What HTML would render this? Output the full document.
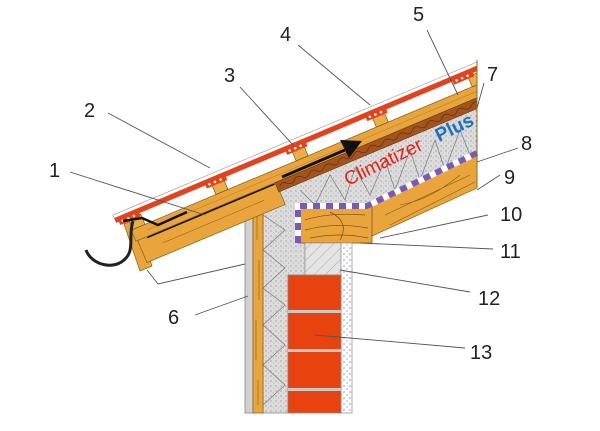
<!DOCTYPE html>
<html><head><meta charset="utf-8"><style>
html,body{margin:0;padding:0;background:#fff;}
svg{display:block;}
text{font-family:"Liberation Sans",sans-serif;}
</style></head><body>
<svg width="600" height="431" viewBox="0 0 600 431" xmlns="http://www.w3.org/2000/svg">
<defs>
<pattern id="ins" width="5" height="5" patternUnits="userSpaceOnUse">
<rect width="5" height="5" fill="#dcdcdc"/><circle cx="1" cy="1" r="0.6" fill="#8a8a8a"/><circle cx="3.5" cy="3" r="0.5" fill="#a0a0a0"/>
</pattern>
<pattern id="pl" width="6" height="6" patternUnits="userSpaceOnUse">
<rect width="6" height="6" fill="#fff"/><circle cx="2" cy="2" r="0.8" fill="#8888cc"/><circle cx="5" cy="5" r="0.7" fill="#9999cc"/>
</pattern>
<pattern id="hat" width="8" height="8" patternUnits="userSpaceOnUse" patternTransform="rotate(45)">
<rect width="8" height="8" fill="#e4e4e4"/><line x1="0" y1="0" x2="0" y2="8" stroke="#999" stroke-width="0.8"/>
</pattern>
<clipPath id="cl"><rect x="0" y="0" width="477.5" height="431"/></clipPath>
</defs>

<!-- insulation -->
<polygon points="263,196 477,100 477,152 367,206 298,206 298,243 305,243 305,275 288,275 288,413 263,413" fill="url(#ins)" stroke="#888" stroke-width="0.8"/>
<polyline points="263,215 285,230 263,250 285,268 263,288 285,305 263,325 285,345 263,365 285,385 263,405" fill="none" stroke="#777" stroke-width="0.7"/>
<polyline points="300,190 315,205 330,175 345,200 355,168 370,195 385,160 395,190 410,150 420,180 435,140 445,170 460,130 470,155" fill="none" stroke="#777" stroke-width="0.7"/>

<!-- rafter right -->
<polygon points="367,207 477,154 477,188 372,236" fill="#e9a53c" stroke="#9a6a1a" stroke-width="0.8"/>
<path d="M385,215 L470,175 M390,225 L475,182 M400,205 Q430,200 460,175" stroke="#8a5a10" stroke-width="0.6" fill="none"/>
<!-- beam -->
<rect x="298" y="207" width="74" height="36" fill="#e9a53c" stroke="#7a5a20" stroke-width="0.8"/>
<path d="M305,220 Q330,212 365,215 M305,230 Q335,222 368,228 M310,238 Q340,232 368,238 M330,212 Q350,222 340,240" stroke="#7a4a10" stroke-width="0.7" fill="none"/>
<!-- vapor dashed -->
<polyline points="298,243 298,206 367,206 477,153" fill="none" stroke="#fff" stroke-width="6"/>
<polyline points="298,243 298,206 367,206 477,153" fill="none" stroke="#7a5ab8" stroke-width="6" stroke-dasharray="7 6"/>

<!-- hatched and plaster -->
<rect x="305" y="243" width="36" height="32" fill="url(#hat)" stroke="#888" stroke-width="0.6"/>
<rect x="341" y="243" width="11" height="170" fill="url(#pl)" stroke="#999" stroke-width="0.8"/>
<!-- bricks -->
<rect x="288" y="275" width="53" height="138" fill="#e8420f" stroke="#888" stroke-width="0.8"/>
<rect x="288" y="310" width="53" height="3" fill="#c8c8c8"/>
<rect x="288" y="349" width="53" height="3" fill="#c8c8c8"/>
<rect x="288" y="388" width="53" height="3" fill="#c8c8c8"/>
<!-- wall exterior -->
<rect x="245" y="203" width="8" height="210" fill="#d0d0d0" stroke="#888" stroke-width="0.8"/>
<rect x="253" y="196" width="10" height="217" fill="#e9a53c" stroke="#8a6a20" stroke-width="0.8"/>
<path d="M257,215 L257,240 M259,260 L259,300 M256,320 L256,360 M258,380 L258,405" stroke="#8a5a10" stroke-width="0.6"/>

<!-- eave fascia -->
<polygon points="124,224 136,219 152,266 140,271" fill="#e9a53c" stroke="#8a6a20" stroke-width="0.8"/>

<!-- roof group -->
<g clip-path="url(#cl)">
<g transform="translate(477,62) rotate(-22.8)">
<rect x="-382" y="33" width="150" height="24" fill="#e9a53c" stroke="#8a6a20" stroke-width="0.8"/>
<line x1="-372" y1="34" x2="-234" y2="34" stroke="#111" stroke-width="1.6"/>
<line x1="-360" y1="45" x2="-250" y2="45" stroke="#8a5a10" stroke-width="0.5"/>
<rect x="-384" y="21" width="410" height="12" fill="#e9a53c" stroke="#8a6a20" stroke-width="0.8"/>
<line x1="-370" y1="27" x2="20" y2="27" stroke="#b07a20" stroke-width="0.5"/>
<rect x="-233" y="33" width="260" height="10" fill="#a3541c" stroke="#6a3a10" stroke-width="0.6"/>
<path d="M-230,38 q4,-4 8,0 t8,0 t8,0 t8,0 t8,0 t8,0 t8,0 t8,0 t8,0 t8,0 t8,0 t8,0 t8,0 t8,0 t8,0 t8,0 t8,0 t8,0 t8,0 t8,0 t8,0 t8,0 t8,0 t8,0 t8,0 t8,0 t8,0 t8,0 t8,0 t8,0 t8,0" fill="none" stroke="#5a2a08" stroke-width="0.6"/>
<g fill="#e9b04a" stroke="#7a5a10" stroke-width="0.7">
<rect x="-14" y="10" width="13" height="11"/>
<rect x="-118" y="10" width="13" height="11"/>
<rect x="-205" y="10" width="13" height="11"/>
<rect x="-292" y="10" width="13" height="11"/>
<rect x="-382" y="10" width="13" height="11"/>
</g>
<rect x="-395" y="0" width="410" height="3.5" fill="#fff" stroke="#999" stroke-width="0.6"/>
<rect x="-395" y="3.5" width="410" height="5" fill="#e8401a"/>
<g fill="#e8401a">
<rect x="-30" y="6" width="22" height="6"/>
<rect x="-124" y="6" width="22" height="6"/>
<rect x="-211" y="6" width="22" height="6"/>
<rect x="-298" y="6" width="22" height="6"/>
<rect x="-392" y="6" width="22" height="6"/>
</g>
<g fill="#fff">
<circle cx="-120" cy="9" r="1.3"/><circle cx="-114" cy="9" r="1.3"/><circle cx="-108" cy="9" r="1.3"/>
<circle cx="-207" cy="9" r="1.3"/><circle cx="-201" cy="9" r="1.3"/><circle cx="-195" cy="9" r="1.3"/>
<circle cx="-294" cy="9" r="1.3"/><circle cx="-288" cy="9" r="1.3"/><circle cx="-282" cy="9" r="1.3"/>
<circle cx="-388" cy="9" r="1.3"/><circle cx="-382" cy="9" r="1.3"/><circle cx="-376" cy="9" r="1.3"/>
<circle cx="-26" cy="9" r="1.3"/><circle cx="-20" cy="9" r="1.3"/><circle cx="-14" cy="9" r="1.3"/>
</g>
</g>
<line x1="477" y1="60" x2="477" y2="188" stroke="#8a6a20" stroke-width="1"/>
</g>

<!-- gutter & flashing -->
<path d="M133,221 C128,236 135,250 125,259 C115,270 92,266 86,250" fill="none" stroke="#222" stroke-width="3"/>
<polyline points="123,221 142,218 158,225 187,212" fill="none" stroke="#111" stroke-width="2.5"/>
<!-- arrow -->
<line x1="282" y1="177" x2="345" y2="150" stroke="#111" stroke-width="3"/>
<polygon points="340,140 362,141 349,158" fill="#111"/>

<!-- text -->
<text x="348" y="186" transform="rotate(-26 348 186)" font-size="19" fill="#e82010">Climatizer</text>
<text x="439" y="142" transform="rotate(-26 439 142)" font-size="19" font-weight="bold" fill="#1f6fc0">Plus</text>

<!-- leaders -->
<g stroke="#555" stroke-width="0.9" fill="none">
<line x1="70" y1="172" x2="205" y2="215"/>
<line x1="108" y1="113" x2="210" y2="168"/>
<line x1="240" y1="87" x2="294" y2="146"/>
<line x1="298" y1="45" x2="370" y2="105"/>
<line x1="427" y1="30" x2="458" y2="95"/>
<line x1="484" y1="83" x2="477" y2="108"/>
<line x1="518" y1="148" x2="477" y2="162"/>
<line x1="500" y1="175" x2="477" y2="190"/>
<line x1="488" y1="215" x2="380" y2="238"/>
<line x1="493" y1="249" x2="360" y2="243"/>
<line x1="470" y1="292" x2="340" y2="270"/>
<line x1="465" y1="348" x2="315" y2="335"/>
<line x1="195" y1="315" x2="248" y2="296"/>
<polyline points="147,270 158,284 245,264"/>
</g>
<g font-size="20" fill="#222">
<text x="49" y="177">1</text>
<text x="84" y="117">2</text>
<text x="224" y="82">3</text>
<text x="280" y="41">4</text>
<text x="413" y="21">5</text>
<text x="168" y="324">6</text>
<text x="487" y="81">7</text>
<text x="521" y="150">8</text>
<text x="504" y="184">9</text>
<text x="500" y="221">10</text>
<text x="500" y="258">11</text>
<text x="478" y="305">12</text>
<text x="470" y="359">13</text>
</g>
</svg>
</body></html>
